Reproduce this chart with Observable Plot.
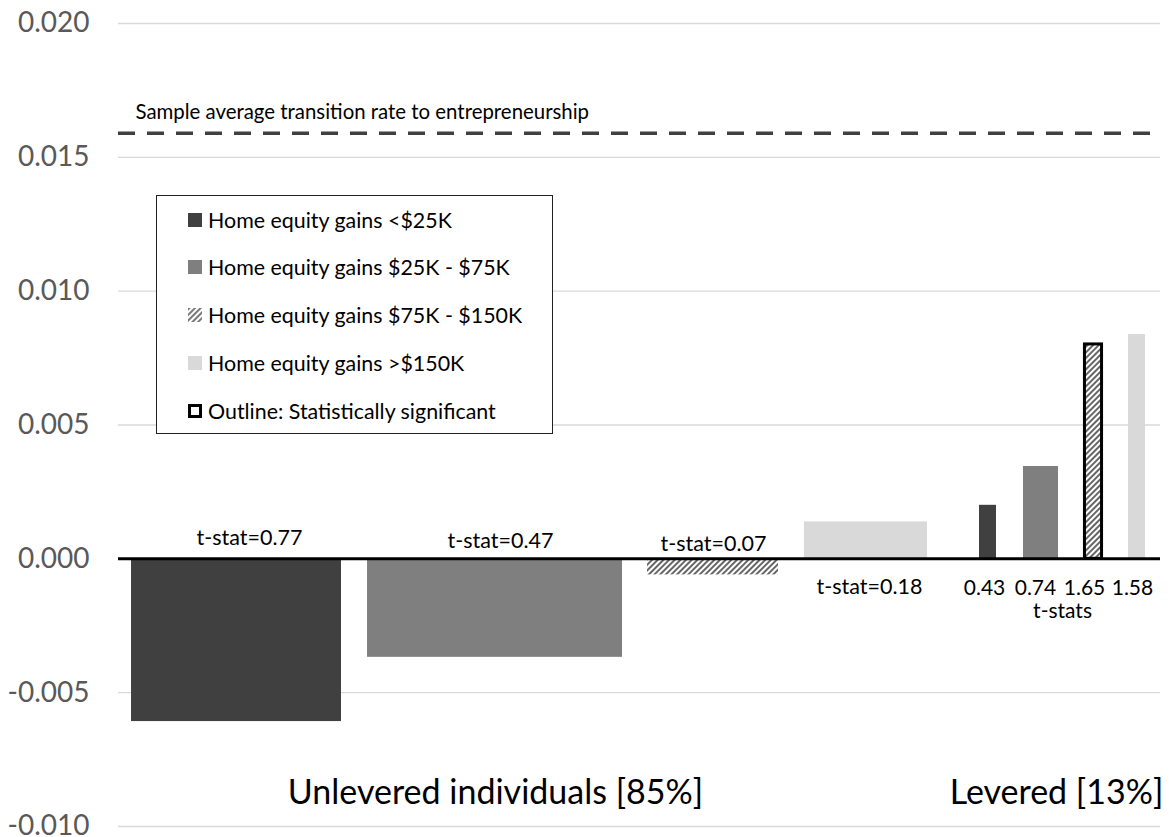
<!DOCTYPE html>
<html>
<head>
<meta charset="utf-8">
<script src="https://cdn.jsdelivr.net/npm/d3@7"></script>
<script src="https://cdn.jsdelivr.net/npm/@observablehq/plot@0.6"></script>
<style>
  html, body { margin: 0; padding: 0; background: #fff; }
  #wrap { position: relative; width: 1172px; height: 837px; font-family: Lato, sans-serif; }
  #legend { position: absolute; left: 156px; top: 195px; width: 397px; height: 239px;
            box-sizing: border-box; border: 1.5px solid #222; background: #fff; }
  .row { position: absolute; left: 31px; height: 24px; display: flex; align-items: center;
         font-size: 21.4px; color: #000; white-space: nowrap; }
  .sw { width: 14px; height: 14px; margin-right: 6px; box-sizing: border-box; flex: none; }
</style>
</head>
<body>
<div id="wrap"><div id="legend"></div></div>
<script>
// ---------------- data ----------------
const groups = ["Unlevered individuals [85%]", "Levered [13%]"];
const bins = ["Home equity gains <$25K", "Home equity gains $25K - $75K",
              "Home equity gains $75K - $150K", "Home equity gains >$150K"];
const unleveredValues = [-0.00608, -0.00368, -0.00060, 0.00138];
const leveredValues   = [0.00200, 0.00345, 0.00801, 0.00838];
const unleveredTstats = [0.77, 0.47, 0.07, 0.18];
const leveredTstats   = [0.43, 0.74, 1.65, 1.58];
const significantCutoff = 1.645;
const sampleAverage = 0.0159;
const sampleAverageLabel = "Sample average transition rate to entrepreneurship";
const yTicks = [-0.010, -0.005, 0.000, 0.005, 0.010, 0.015, 0.020];
const legendOutlineLabel = "Outline: Statistically significant";

// ---------------- layout (bar extents along the horizontal axis, 0–100 units) ----------------
const unleveredExtent = [[1.25, 21.40], [23.90, 48.37], [50.77, 63.34], [65.83, 77.64]];
const leveredExtent   = [[82.63, 84.26], [86.85, 90.21], [92.75, 94.39], [96.93, 98.56]];
const unleveredLabelX = [12.57, 36.66, 57.10, 72.07];
const unleveredLabelDy = [-21, -18, -15, 28];
const leveredLabelX = [83.11, 88.0, 92.71, 97.31];
const groupLabelX = [36.18, 90.02];
const tstatsTitleX = 90.6;
const sampleLabelX = 1.63;

const binFill = ["#404040", "#7f7f7f", "url(#hatch)", "#d9d9d9"];

const bars = [];
bins.forEach((b, i) => {
  bars.push({group: groups[0], bin: i, value: unleveredValues[i], t: unleveredTstats[i],
             left: unleveredExtent[i][0], right: unleveredExtent[i][1],
             lx: unleveredLabelX[i], dy: unleveredLabelDy[i]});
});
bins.forEach((b, i) => {
  bars.push({group: groups[1], bin: i, value: leveredValues[i], t: leveredTstats[i],
             left: leveredExtent[i][0], right: leveredExtent[i][1], lx: leveredLabelX[i]});
});
const unlev = bars.filter(d => d.group === groups[0]);
const lev = bars.filter(d => d.group === groups[1]);

const marks = [
  Plot.gridY(yTicks, {stroke: "#d9d9d9", strokeOpacity: 1, strokeWidth: 1.3}),
  Plot.axisY(yTicks, {tickFormat: d => d.toFixed(3), tickSize: 0, tickPadding: 29,
                      fontSize: 28, fill: "#595959", label: null})
];
bins.forEach((b, i) => {
  marks.push(Plot.rect(bars.filter(d => d.bin === i),
    {x1: "left", x2: "right", y1: 0, y2: "value", fill: binFill[i]}));
});
marks.push(Plot.rect(bars.filter(d => d.t >= significantCutoff),
  {x1: "left", x2: "right", y1: 0, y2: "value", fill: "none", stroke: "#000", strokeWidth: 3}));
marks.push(Plot.ruleY([0], {stroke: "#000", strokeWidth: 3}));
marks.push(Plot.ruleY([sampleAverage], {stroke: "#404040", strokeWidth: 3.5, strokeDasharray: "17,12"}));
marks.push(Plot.text([sampleAverageLabel], {x: sampleLabelX, y: sampleAverage, dy: -21,
  text: d => d, textAnchor: "start", fontSize: 20.4, fill: "#000"}));
unlev.forEach(d => {
  marks.push(Plot.text([d], {x: "lx", y: 0, dy: d.dy, text: v => "t-stat=" + v.t.toFixed(2),
    fontSize: 21.5, fill: "#000"}));
});
marks.push(Plot.text(lev, {x: "lx", y: 0, dy: 29, text: v => v.t.toFixed(2), fontSize: 21, fill: "#000"}));
marks.push(Plot.text(["t-stats"], {x: tstatsTitleX, y: 0, dy: 52, text: d => d, fontSize: 21, fill: "#000"}));
marks.push(Plot.text(groups.map((g, i) => ({g, x: groupLabelX[i]})),
  {x: "x", y: yTicks[0], dy: -33, text: "g", fontSize: 34, fill: "#000"}));

const chart = Plot.plot({
  width: 1172, height: 837,
  marginLeft: 118, marginRight: 12, marginTop: 23, marginBottom: 11,
  x: {domain: [0, 100], axis: null},
  y: {domain: [yTicks[0], yTicks[yTicks.length - 1]], axis: null},
  style: {fontFamily: "Lato, sans-serif", background: "white", color: "#000"},
  marks
});

// hatch pattern definition
const defs = d3.select(chart).insert("defs", ":first-child");
const pat = defs.append("pattern").attr("id", "hatch").attr("patternUnits", "userSpaceOnUse")
  .attr("width", 4).attr("height", 4).attr("patternTransform", "rotate(45)");
pat.append("rect").attr("width", 4).attr("height", 4).attr("fill", "#fff");
pat.append("line").attr("x1", 1).attr("y1", 0).attr("x2", 1).attr("y2", 4)
  .attr("stroke", "#404040").attr("stroke-width", 1.6);

document.getElementById("wrap").prepend(chart);

// legend
const legend = document.getElementById("legend");
const rowTops = [12, 59, 107, 155, 203];
bins.concat([legendOutlineLabel]).forEach((label, i) => {
  const row = document.createElement("div");
  row.className = "row";
  row.style.top = rowTops[i] + "px";
  let sw;
  if (i === 2) {
    sw = document.createElementNS("http://www.w3.org/2000/svg", "svg");
    sw.setAttribute("width", 14); sw.setAttribute("height", 14);
    sw.setAttribute("class", "sw");
    sw.innerHTML = '<defs><pattern id="hatchL" patternUnits="userSpaceOnUse" width="4" height="4" patternTransform="rotate(45)"><rect width="4" height="4" fill="#fff"/><line x1="1" y1="0" x2="1" y2="4" stroke="#404040" stroke-width="1.4"/></pattern></defs><rect width="14" height="14" fill="url(#hatchL)"/>';
  } else {
    sw = document.createElement("div");
    sw.className = "sw";
    if (i < 4) sw.style.background = binFill[i];
    else { sw.style.border = "3px solid #000"; sw.style.background = "#fff"; }
  }
  row.appendChild(sw);
  const t = document.createElement("span");
  t.textContent = label;
  row.appendChild(t);
  legend.appendChild(row);
});
</script>
</body>
</html>
